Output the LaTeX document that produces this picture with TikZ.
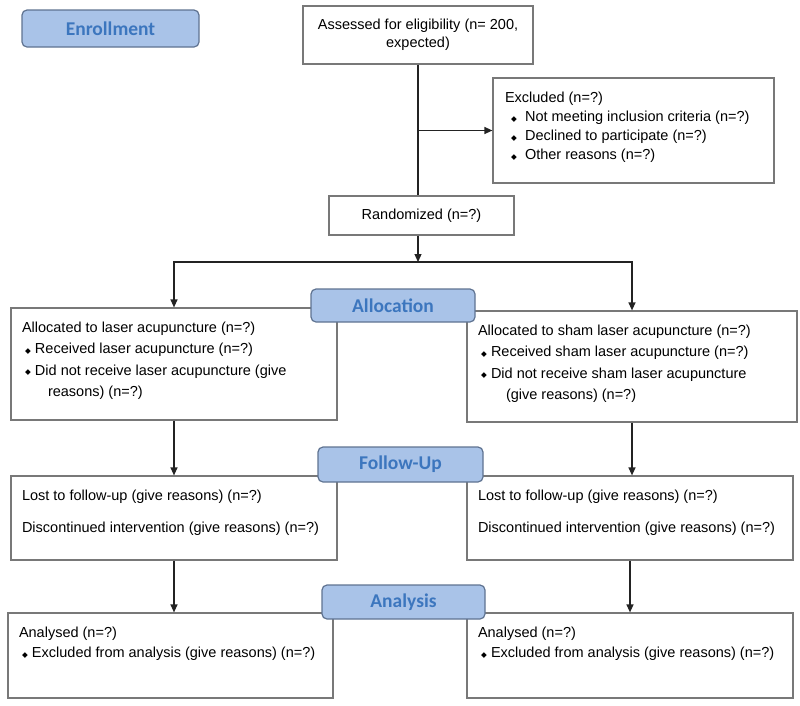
\documentclass[tikz,border=0pt]{standalone}
\usepackage{fontspec}
\setmainfont{Liberation Sans}
\newfontfamily\headfont{Carlito}
\newfontfamily\symfont{DejaVu Sans}
\usetikzlibrary{arrows.meta,positioning}
\definecolor{stagefill}{RGB}{169,195,232}
\definecolor{stagedraw}{RGB}{95,115,145}
\definecolor{stagetext}{RGB}{60,118,190}
\definecolor{boxline}{RGB}{120,120,120}
\definecolor{flowline}{RGB}{35,35,35}
\newcommand{\blt}[1][3pt]{\hspace*{#1}\makebox[10pt][l]{\raisebox{0.3pt}{\symfont\fontsize{7.5}{7.5}\selectfont ◆}}}
\newcommand{\boxtext}[3]{\parbox[c][#2][t]{#1}{\raggedright\vspace*{14pt}#3}}

\begin{document}
\begin{tikzpicture}
	[x=1pt, y=-1pt,
	font=\fontsize{14.5}{21.3}\selectfont,
	stage/.style	= {rectangle, rounded corners=5pt, draw=stagedraw, fill=stagefill, line width=1.2pt, inner sep=0pt, text=stagetext, font=\headfont\bfseries\fontsize{19.5}{20}\selectfont},
	panel/.style	= {rectangle, draw=boxline, fill=white, line width=1.2pt, inner xsep=11pt, inner ysep=0pt},
	plain/.style	= {rectangle, draw=boxline, fill=white, line width=1.2pt, inner sep=0pt, align=center},
	link/.style		= {line width=1.2pt, draw=flowline},
	flow/.style		= {-{Triangle[length=8pt,width=7pt]}, line width=1.2pt, draw=flowline}]

	\useasboundingbox (0,0) rectangle (800,705);

	% enrollment
	\node at (418,35)		[plain, minimum width=230pt, minimum height=58pt, font=\fontsize{14.5}{18}\selectfont]	(assess)	{Assessed for eligibility (n= 200,\\expected)};
	\node at (633.5,130.5)	[panel, inner xsep=12pt]	(excl)	{\boxtext{257pt}{105pt}{\fontsize{14.5}{19}\selectfont Excluded (n=?)\\ \blt[6pt] Not meeting inclusion criteria (n=?)\\ \blt[6pt] Declined to participate (n=?)\\ \blt[6pt] Other reasons (n=?)}};
	\node at (421.5,215.5)	[plain, minimum width=185pt, minimum height=39pt]	(rand)	{Randomized (n=?)};

	% allocation
	\node at (174,364)		[panel]	(allocL)	{\boxtext{304pt}{112pt}{Allocated to laser acupuncture (n=?)\\ \blt Received laser acupuncture (n=?)\\ \blt Did not receive laser acupuncture (give\\ \hspace*{26pt}reasons) (n=?)}};
	\node at (632,366.5)	[panel]	(allocR)	{\boxtext{308pt}{111pt}{Allocated to sham laser acupuncture (n=?)\\ \blt Received sham laser acupuncture (n=?)\\ \blt Did not receive sham laser acupuncture\\ \hspace*{28pt}(give reasons) (n=?)}};

	% follow-up
	\node at (174,518)		[panel]	(followL)	{\boxtext{304pt}{84pt}{Lost to follow-up (give reasons) (n=?)\\[10.7pt] Discontinued intervention (give reasons) (n=?)}};
	\node at (630,518)		[panel]	(followR)	{\boxtext{304pt}{84pt}{Lost to follow-up (give reasons) (n=?)\\[10.7pt] Discontinued intervention (give reasons) (n=?)}};

	% analysis
	\node at (170.5,655.5)	[panel]	(analL)	{\boxtext{303pt}{85pt}{Analysed (n=?)\\[-1.3pt] \blt Excluded from analysis (give reasons) (n=?)}};
	\node at (630,655.5)	[panel]	(analR)	{\boxtext{304pt}{85pt}{Analysed (n=?)\\[-1.3pt] \blt Excluded from analysis (give reasons) (n=?)}};

	\coordinate (split) at (418,262);

	\draw [link] (assess.south) -- (assess.south |- rand.north);
	\draw [flow] (assess.south |- excl.west) -- (excl.west);
	\draw [flow] (split |- rand.south) -- (split);
	\draw [flow] (split) -| (allocL.north);
	\draw [flow] (split) -| (allocR.north);
	\draw [flow] (allocL.south) -- (followL.north);
	\draw [flow] (allocR.south) -- (allocR.south |- followR.north);
	\draw [flow] (followL.south) -- (followL.south |- analL.north);
	\draw [flow] (followR.south) -- (followR.south |- analR.north);

	% stage labels
	\node at (110.5,28.5)	[stage, minimum width=177pt, minimum height=37pt]	(enrol)		{Enrollment};
	\node at (393,305.5)	[stage, minimum width=164pt, minimum height=33pt]	(allocation)	{Allocation};
	\node at (400.5,464.5)	[stage, minimum width=165pt, minimum height=35pt]	(followup)	{Follow-Up};
	\node at (403.5,602)	[stage, minimum width=163pt, minimum height=34pt]	(analysis)	{Analysis};
\end{tikzpicture}
\end{document}
